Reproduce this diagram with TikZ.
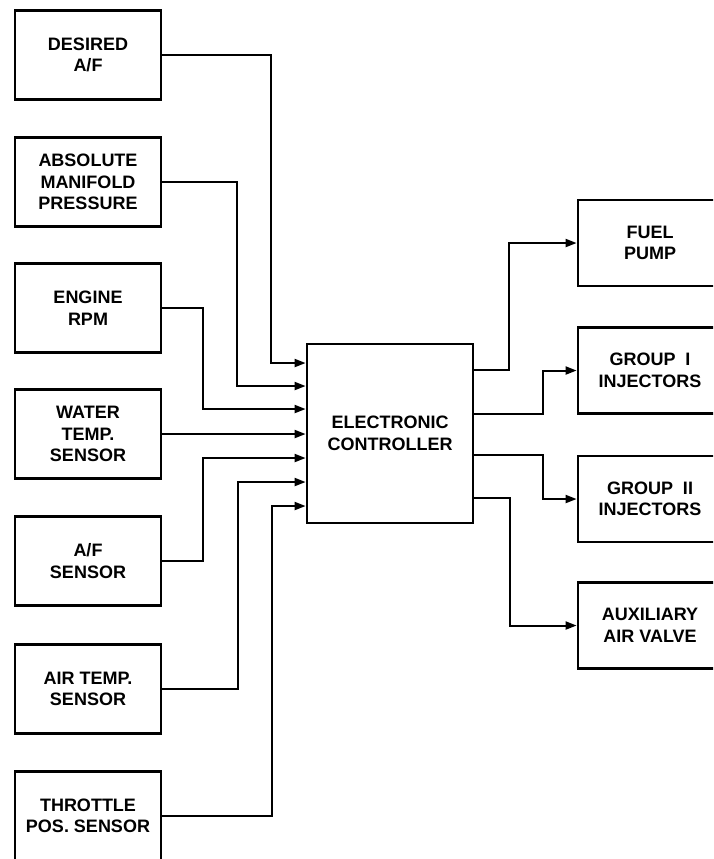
\documentclass[tikz,border=0pt]{standalone}
\usepackage{fontspec}
\setmainfont{Liberation Sans}
\usetikzlibrary{arrows.meta}
\tikzset{
  blk/.style={draw, line width=2.8pt, align=center, inner sep=0pt,
    font=\fontsize{18}{21.5}\selectfont\bfseries},
  inbox/.style={blk, minimum width=146pt, minimum height=89pt},
  outbox/.style={blk, minimum width=144pt, minimum height=86pt},
  conn/.style={line width=2pt},
  arr/.style={conn, -{Triangle[length=11pt,width=8pt]}}
}
\begin{document}
\begin{tikzpicture}[x=1pt,y=-1pt]
\useasboundingbox (0,0) rectangle (713,859);
\clip (0,0) rectangle (713,859);
% input boxes
\node[inbox] (d1) at (88,55) {DESIRED\\A/F};
\node[inbox] (d2) at (88,182) {ABSOLUTE\\MANIFOLD\\PRESSURE};
\node[inbox] (d3) at (88,308) {ENGINE\\RPM};
\node[inbox] (d4) at (88,434) {WATER\\TEMP.\\SENSOR};
\node[inbox] (d5) at (88,561) {A/F\\SENSOR};
\node[inbox] (d6) at (88,689) {AIR TEMP.\\SENSOR};
\node[inbox] (d7) at (88,816) {THROTTLE\\POS. SENSOR};
% controller
\node[blk, minimum width=166pt, minimum height=179pt] (ctrl) at (390,433.5) {ELECTRONIC\\CONTROLLER};
% output boxes
\node[outbox] (fuel) at (650,243) {FUEL\\PUMP};
\node[outbox] (g1) at (650,370.5) {GROUP\ \ I\\INJECTORS};
\node[outbox] (g2) at (650,499) {GROUP\ \ II\\INJECTORS};
\node[outbox] (aux) at (650,625.5) {AUXILIARY\\AIR VALVE};
% inputs
\draw[arr] (d1.east) -| (271,363) -- (ctrl.west |- 0,363);
\draw[arr] (d2.east) -| (237,386) -- (ctrl.west |- 0,386);
\draw[arr] (d3.east) -| (203,409) -- (ctrl.west |- 0,409);
\draw[arr] (d4.east) -- (ctrl.west |- d4.east);
\draw[arr] (d5.east) -| (203,458) -- (ctrl.west |- 0,458);
\draw[arr] (d6.east) -| (238,482) -- (ctrl.west |- 0,482);
\draw[arr] (d7.east) -| (272,506) -- (ctrl.west |- 0,506);
% outputs
\draw[arr] (ctrl.east |- 0,370) -- (509,370) |- (fuel.west);
\draw[arr] (ctrl.east |- 0,414) -- (543,414) |- (g1.west);
\draw[arr] (ctrl.east |- 0,455) -- (543,455) |- (g2.west);
\draw[arr] (ctrl.east |- 0,498) -- (510,498) |- (aux.west);
\end{tikzpicture}
\end{document}
